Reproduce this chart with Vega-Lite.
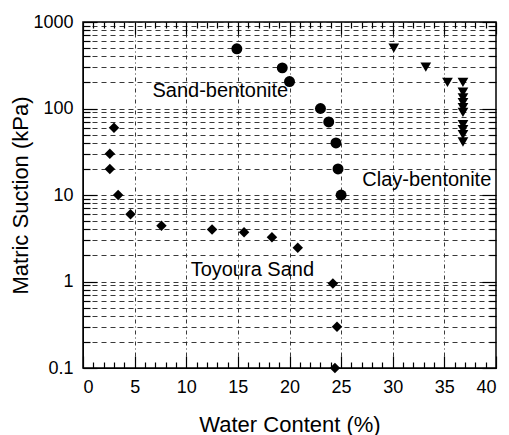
{
  "$schema": "https://vega.github.io/schema/vega-lite/v6.json",
  "width": 413,
  "height": 346,
  "autosize": {"type": "none"},
  "padding": {"left": 83, "top": 22, "right": 13, "bottom": 67},
  "background": "white",
  "config": {
    "view": {"stroke": "black", "strokeWidth": 1.5},
    "font": "Liberation Sans",
    "axis": {"domainColor": "black", "tickColor": "black", "labelColor": "black", "titleColor": "black", "titleFontWeight": "normal", "gridColor": "#222", "gridWidth": 0.9, "tickWidth": 1.2}
  },
  "datasets": {
    "pts": [
      {"w": 14.9, "s": 490, "series": "Sand-bentonite"},
      {"w": 19.3, "s": 295, "series": "Sand-bentonite"},
      {"w": 20.0, "s": 205, "series": "Sand-bentonite"},
      {"w": 23.0, "s": 100, "series": "Sand-bentonite"},
      {"w": 23.8, "s": 70, "series": "Sand-bentonite"},
      {"w": 24.5, "s": 40, "series": "Sand-bentonite"},
      {"w": 24.7, "s": 20, "series": "Sand-bentonite"},
      {"w": 25.0, "s": 10, "series": "Sand-bentonite"},
      {"w": 30.1, "s": 500, "series": "Clay-bentonite"},
      {"w": 33.2, "s": 300, "series": "Clay-bentonite"},
      {"w": 35.3, "s": 200, "series": "Clay-bentonite"},
      {"w": 36.8, "s": 200, "series": "Clay-bentonite"},
      {"w": 36.8, "s": 155, "series": "Clay-bentonite"},
      {"w": 36.8, "s": 133, "series": "Clay-bentonite"},
      {"w": 36.8, "s": 117, "series": "Clay-bentonite"},
      {"w": 36.8, "s": 102, "series": "Clay-bentonite"},
      {"w": 36.8, "s": 90, "series": "Clay-bentonite"},
      {"w": 36.8, "s": 65, "series": "Clay-bentonite"},
      {"w": 36.8, "s": 57, "series": "Clay-bentonite"},
      {"w": 36.8, "s": 50, "series": "Clay-bentonite"},
      {"w": 36.8, "s": 41, "series": "Clay-bentonite"},
      {"w": 3.0, "s": 60, "series": "Toyoura Sand"},
      {"w": 2.6, "s": 30, "series": "Toyoura Sand"},
      {"w": 2.6, "s": 20, "series": "Toyoura Sand"},
      {"w": 3.4, "s": 10, "series": "Toyoura Sand"},
      {"w": 4.6, "s": 6, "series": "Toyoura Sand"},
      {"w": 7.6, "s": 4.4, "series": "Toyoura Sand"},
      {"w": 12.5, "s": 4.0, "series": "Toyoura Sand"},
      {"w": 15.6, "s": 3.7, "series": "Toyoura Sand"},
      {"w": 18.3, "s": 3.25, "series": "Toyoura Sand"},
      {"w": 20.8, "s": 2.45, "series": "Toyoura Sand"},
      {"w": 24.2, "s": 0.95, "series": "Toyoura Sand"},
      {"w": 24.6, "s": 0.3, "series": "Toyoura Sand"},
      {"w": 24.4, "s": 0.1, "series": "Toyoura Sand"}
    ],
    "labels": [
      {"w": 13.3, "s": 161, "text": "Sand-bentonite"},
      {"w": 33.3, "s": 15, "text": "Clay-bentonite"},
      {"w": 16.4, "s": 1.36, "text": "Toyoura Sand"}
    ]
  },
  "layer": [
    {
      "data": {"name": "pts"},
      "mark": {"type": "point", "filled": true, "opacity": 1, "color": "black"},
      "encoding": {
        "x": {
          "field": "w", "type": "quantitative",
          "scale": {"domain": [0, 40], "nice": false, "zero": false},
          "axis": {
            "orient": "bottom",
            "values": [0,1,2,3,4,5,6,7,8,9,10,11,12,13,14,15,16,17,18,19,20,21,22,23,24,25,26,27,28,29,30,31,32,33,34,35,36,37,38,39,40],
            "labelExpr": "datum.value % 5 == 0 ? datum.label : ''",
            "tickSize": {"condition": {"test": "datum.value % 5 == 0", "value": -12}, "value": -6},
            "grid": true,
            "gridOpacity": {"condition": {"test": "datum.value % 5 == 0 && datum.value > 0 && datum.value < 40", "value": 1}, "value": 0},
            "gridDash": [4, 3, 1, 3],
            "title": "Water Content (%)",
            "labelFontSize": 18,
            "titleFontSize": 22,
            "labelPadding": 22,
            "titlePadding": 12,
            "labelOverlap": false
          }
        },
        "y": {
          "field": "s", "type": "quantitative",
          "scale": {"type": "log", "domain": [0.1, 1000], "nice": false},
          "axis": {
            "orient": "left",
            "values": [0.1,0.2,0.3,0.4,0.5,0.6,0.7,0.8,0.9,1,2,3,4,5,6,7,8,9,10,20,30,40,50,60,70,80,90,100,200,300,400,500,600,700,800,900,1000],
            "labelExpr": "abs(log(datum.value)/LN10 - round(log(datum.value)/LN10)) < 0.001 ? format(datum.value, '~g') : ''",
            "tickSize": {"condition": {"test": "abs(log(datum.value)/LN10 - round(log(datum.value)/LN10)) < 0.001", "value": -14}, "value": -7},
            "grid": true,
            "gridDash": [5, 4],
            "title": "Matric Suction (kPa)",
            "labelFontSize": 18,
            "titleFontSize": 22,
            "labelPadding": 24,
            "titlePadding": 0,
            "labelOverlap": false
          }
        },
        "shape": {"field": "series", "type": "nominal", "scale": {"domain": ["Sand-bentonite", "Clay-bentonite", "Toyoura Sand"], "range": ["circle", "triangle-down", "diamond"]}, "legend": null},
        "size": {"field": "series", "type": "nominal", "scale": {"domain": ["Sand-bentonite", "Clay-bentonite", "Toyoura Sand"], "range": [120, 110, 121]}, "legend": null}
      }
    },
    {
      "data": {"name": "labels"},
      "mark": {"type": "text", "fontSize": 20, "color": "black", "align": "center", "baseline": "middle"},
      "encoding": {
        "x": {"field": "w", "type": "quantitative", "axis": null},
        "y": {"field": "s", "type": "quantitative", "axis": null},
        "text": {"field": "text"}
      }
    },
    {
      "data": {"name": "pts"},
      "mark": {"type": "point", "opacity": 0},
      "encoding": {
        "x": {
          "field": "w", "type": "quantitative",
          "axis": {
            "orient": "top",
            "values": [0,1,2,3,4,5,6,7,8,9,10,11,12,13,14,15,16,17,18,19,20,21,22,23,24,25,26,27,28,29,30,31,32,33,34,35,36,37,38,39,40],
            "labels": false, "grid": false, "title": null, "domain": false,
            "tickSize": {"condition": {"test": "datum.value % 5 == 0", "value": -12}, "value": -6}
          }
        },
        "y": {
          "field": "s", "type": "quantitative",
          "axis": {
            "orient": "right",
            "values": [0.1,0.2,0.3,0.4,0.5,0.6,0.7,0.8,0.9,1,2,3,4,5,6,7,8,9,10,20,30,40,50,60,70,80,90,100,200,300,400,500,600,700,800,900,1000],
            "labels": false, "grid": false, "title": null, "domain": false,
            "tickSize": {"condition": {"test": "abs(log(datum.value)/LN10 - round(log(datum.value)/LN10)) < 0.001", "value": -14}, "value": -7}
          }
        }
      }
    }
  ],
  "resolve": {"axis": {"x": "independent", "y": "independent"}}
}
